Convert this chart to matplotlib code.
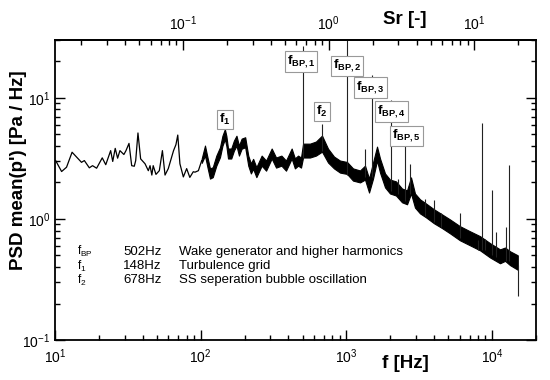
import numpy as np
import matplotlib
matplotlib.use("Agg")
import matplotlib.pyplot as plt
from matplotlib.ticker import NullFormatter

plt.rcParams['font.family'] = ['Liberation Sans', 'DejaVu Sans']
plt.rcParams['mathtext.fontset'] = 'custom'
plt.rcParams['mathtext.rm'] = 'Liberation Sans'
plt.rcParams['mathtext.it'] = 'Liberation Sans:italic'
plt.rcParams['mathtext.bf'] = 'Liberation Sans:bold'

# low frequency part of the spectrum (single trace)
f_low = [10.1, 11.1, 12.0, 13.1, 15.2, 15.9, 17.2, 18.1, 19.3, 21.1, 22.3, 24.1, 24.9,
         25.9, 26.9, 27.9, 29.7, 30.7, 32.2, 33.6, 35.0, 35.8, 37.1, 38.7, 41.5, 43.7,
         44.9, 46.2, 47.2, 49.3, 52.0, 54.6, 56.9, 59.9, 65.1, 67.6, 69.6, 72.0, 76.0,
         80.1, 84.2, 88.9, 91.4, 96.4, 101.6]
p_low = [3.03, 2.46, 2.67, 3.55, 2.93, 3.03, 2.64, 2.75, 2.62, 3.19, 2.80, 3.66, 2.98,
         3.82, 3.17, 3.66, 3.40, 3.66, 4.20, 2.75, 2.72, 3.03, 5.12, 3.13, 2.85, 2.50,
         2.75, 2.30, 2.75, 2.33, 2.50, 3.66, 2.30, 2.60, 3.66, 4.10, 4.92, 2.85, 2.22,
         2.60, 2.20, 2.45, 2.43, 2.50, 3.03]

# broadband part: lower / upper envelope of the dense trace
f_band = [101.6, 107, 111.7, 115.8, 121, 128, 135.6, 141, 146.5, 150, 154, 162,
          169, 176, 183, 191, 202, 212, 221, 229, 241, 262, 281, 307, 329, 358, 385,
          421, 443, 466, 488,
          504, 562, 618, 680, 748, 822, 904, 1010, 1110, 1240, 1342, 1430,
          1523, 1622, 1701, 1841, 1992, 2188, 2409, 2607, 2776, 2955, 3199, 3516, 3990,
          4527, 5137, 6020, 7050, 8260, 9680, 11330, 12270, 13280, 15000]
p_band_lo = [2.90, 3.33, 2.61, 2.15, 2.21, 2.75, 3.23, 4.02, 4.55, 4.00, 3.15, 3.15,
             3.66, 4.02, 3.33, 3.80, 3.90, 2.75, 2.37, 2.59, 2.21, 2.75, 2.50, 3.15,
             2.65, 2.75, 2.50, 3.15, 2.61, 2.75, 2.65,
             3.21, 3.21, 3.33, 3.59, 2.92, 2.61, 2.41,
             2.35, 2.07, 2.00, 2.11, 1.65, 2.15, 3.03, 2.41, 1.82, 1.62, 1.56, 1.37,
             1.32, 1.62, 1.24, 1.11, 1.03, 0.92, 0.84, 0.76, 0.665, 0.605, 0.55, 0.48,
             0.43, 0.45, 0.415, 0.38]
p_band_hi = [3.15, 4.03, 3.16, 2.61, 2.67, 3.33, 3.90, 4.86, 5.50, 4.84, 3.81, 3.81,
             4.43, 4.86, 4.03, 4.60, 4.72, 3.33, 2.87, 3.13, 2.67, 3.33, 3.03, 3.81,
             3.21, 3.33, 3.03, 3.81, 3.16, 3.33, 3.21,
             4.18, 4.18, 4.35, 4.87, 3.80, 3.27, 3.03,
             2.95, 2.61, 2.51, 2.75, 2.15, 2.92, 3.95, 3.15, 2.37, 2.11, 2.04, 1.78,
             1.72, 2.20, 1.62, 1.45, 1.34, 1.20, 1.09, 0.99, 0.87, 0.79, 0.72, 0.63,
             0.56, 0.58, 0.54, 0.50]

# tonal spikes (blade passing harmonics and others)
spike_f = [502, 1004, 1506, 2008, 2510, 678, 1341, 2260, 2750, 3480, 3990, 4490, 6020,
           8000, 8520, 8890, 9940, 10700, 12490, 13100, 15000]
spike_base = [3.2, 2.3, 2.2, 1.7, 1.4, 3.6, 2.2, 1.6, 1.6, 1.05, 0.95, 0.85, 0.7,
              0.55, 0.55, 0.55, 0.5, 0.48, 0.45, 0.45, 0.42]
spike_top = [26.8, 40.0, 15.5, 9.6, 5.9, 6.1, 3.8, 2.15, 2.85, 1.46, 1.44, 1.11, 1.11,
             0.665, 6.15, 0.68, 1.72, 0.78, 0.86, 2.76, 0.23]

# peak labels
peak_labels = ['f_{1}', 'f_{BP,1}', 'f_{BP,2}', 'f_{BP,3}', 'f_{BP,4}', 'f_{BP,5}', 'f_{2}']
label_f = [147, 488, 1012, 1460, 2030, 2590, 680]
label_p = [6.63, 20.0, 18.3, 12.1, 7.74, 4.82, 7.7]

legend_sym = ['f_{BP}', 'f_{1}', 'f_{2}']
legend_freq = ['502Hz', '148Hz', '678Hz']
legend_desc = ['Wake generator and higher harmonics', 'Turbulence grid',
               'SS seperation bubble oscillation']

SR_PER_HZ = 1.0 / 757.0

fig = plt.figure(figsize=(5.5, 3.8), dpi=100)
ax = fig.add_axes([0.1, 0.1053, 0.8745, 0.7895])
ax.set_xscale('log'); ax.set_yscale('log')

ax.plot(f_low, p_low, color='k', lw=0.9)
ax.fill_between(f_band, p_band_lo, p_band_hi, color='k', lw=0.8)
ax.vlines(spike_f, spike_base, spike_top, color='#222222', lw=0.8)

ax.set_xlim(10, 20000); ax.set_ylim(0.1, 30)
ax.xaxis.set_minor_formatter(NullFormatter()); ax.yaxis.set_minor_formatter(NullFormatter())
ax.tick_params(which='both', direction='in', right=True, top=False, width=1, labelsize=10)
ax.tick_params(which='major', length=7)
ax.tick_params(which='minor', length=3.5)
ax.tick_params(axis='x', pad=5)
for s in ax.spines.values(): s.set_linewidth(1.3)

sec = ax.secondary_xaxis('top', functions=(lambda f: f * SR_PER_HZ, lambda s: s / SR_PER_HZ))
sec.set_xticks([0.1, 1, 10])
sec.xaxis.set_minor_formatter(NullFormatter())
sec.tick_params(which='both', direction='in', width=1, labelsize=10, pad=5)
sec.tick_params(which='major', length=7)
sec.tick_params(which='minor', length=3.5)
sec.spines['top'].set_linewidth(1.3)
ax.text(0.728, 1.067, 'Sr [-]', transform=ax.transAxes, fontsize=13.5,
        fontweight='bold', ha='center', va='center')

ax.set_xlabel('f [Hz]', fontsize=13.5, fontweight='bold')
ax.xaxis.set_label_coords(0.728, -0.05)
ax.set_ylabel("PSD mean(p') [Pa / Hz]", fontsize=13.5, fontweight='bold')
ax.yaxis.set_label_coords(-0.058, 0.567)

for lab, lf, lp in zip(peak_labels, label_f, label_p):
    ax.text(lf, lp, r'$\mathbf{%s}$' % lab, fontsize=9.5, ha='center', va='center',
            bbox=dict(boxstyle='square,pad=0.15', fc='white', ec='#999999', lw=0.8))

rows_p = [0.535, 0.405, 0.31]
for sym, fr, desc, rp in zip(legend_sym, legend_freq, legend_desc, rows_p):
    ax.text(14.2, rp, r'$\mathrm{%s}$' % sym, fontsize=8.5, va='center')
    ax.text(29.3, rp, fr, fontsize=9.5, va='center')
    ax.text(71, rp, desc, fontsize=9.5, va='center')

fig.savefig('out.png', dpi=100, facecolor='white')
